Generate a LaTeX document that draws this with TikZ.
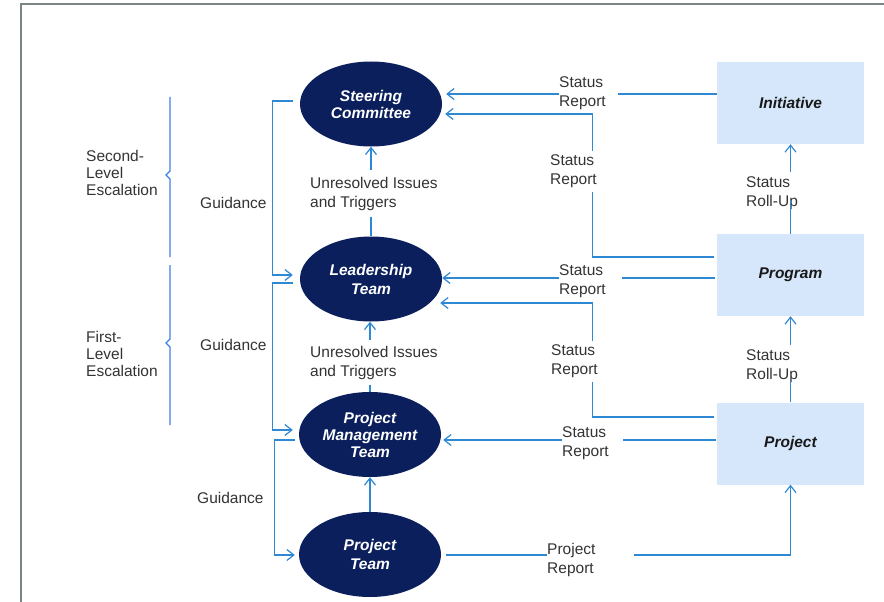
\documentclass[tikz,border=0pt]{standalone}
\usepackage{fontspec}
\setmainfont{Liberation Sans}
\usetikzlibrary{shapes.geometric,arrows.meta}
\definecolor{navy}{HTML}{0A1F5C}
\definecolor{boxblue}{HTML}{D6E7FB}
\definecolor{linkblue}{HTML}{2E88D3}
\definecolor{bracketblue}{HTML}{3D7FE8}
\definecolor{txtgray}{HTML}{333333}
\definecolor{framegray}{HTML}{7B8585}
\begin{document}
\begin{tikzpicture}[x=1pt,y=-1pt,
  font=\fontsize{15.5}{19}\selectfont,
  ell/.style={ellipse,fill=navy,minimum width=142pt,minimum height=85pt,inner sep=0pt,
    text=white,align=center,font=\fontsize{15.5}{17}\selectfont\bfseries\itshape},
  levelbox/.style={rectangle,fill=boxblue,minimum width=147pt,minimum height=82pt,inner sep=0pt,
    text=black!90,font=\fontsize{15.5}{17}\selectfont\bfseries\itshape},
  conn/.style={draw=linkblue,line width=1.2pt},
  arr/.style={conn,-{Straight Barb[length=7pt,width=11pt]}},
  lbl/.style={text=txtgray,align=left,inner sep=0pt,anchor=west},
  gaplbl/.style={lbl,fill=white},
  esc/.style={draw=bracketblue,line width=1.2pt},
]
\useasboundingbox (0,0) rectangle (884,602);
\draw[framegray,line width=2pt] (21,603) -- (21,4) -- (885,4);

% escalation brackets
\draw[esc] (170,97) -- (170,171) -- (166,175) -- (170,179) -- (170,257);
\draw[esc] (170,265) -- (170,339) -- (166,343) -- (170,347) -- (170,425);
\node[lbl,font=\fontsize{15.5}{17}\selectfont] (sle) at (86,173) {Second-\\Level\\Escalation};
\node[lbl,font=\fontsize{15.5}{17}\selectfont] (fle) at (86,353.5) {First-\\Level\\Escalation};

% nodes
\node[ell] (sc) at (371,104) {Steering\\Committee};
\node[ell,font=\fontsize{15.5}{19}\selectfont\bfseries\itshape] (lt) at (371,279) {Leadership\\Team};
\node[ell] (pmt) at (370,434.5) {Project\\Management\\Team};
\node[ell,font=\fontsize{15.5}{19}\selectfont\bfseries\itshape] (pt) at (370,554.5) {Project\\Team};
\node[levelbox] (init) at (790.5,103) {Initiative};
\node[levelbox] (prog) at (790.5,275) {Program};
\node[levelbox] (proj) at (790.5,443.5) {Project};

% guidance
\draw[arr] ([xshift=-7pt,yshift=3pt]sc.west) -- ++(-20,0) |- ([xshift=-7pt,yshift=4pt]lt.west);
\draw[arr] ([xshift=-7pt,yshift=-4pt]lt.west) -- ++(-20,0) |- ([xshift=-6pt,yshift=4.5pt]pmt.west);
\draw[arr] ([xshift=-4pt,yshift=-5.5pt]pmt.west) -- ++(-20,0) |- ([xshift=-4pt,yshift=-0.5pt]pt.west);
\node[lbl] (g1) at (200,202.5) {Guidance};
\node[lbl] (g2) at (200,344.5) {Guidance};
\node[lbl] (g3) at (197,497.5) {Guidance};

% escalation upward
\draw[arr] (lt.north) -- (sc.south);
\draw[arr] (pmt.north) -- (pmt.north |- lt.south);
\draw[arr] (pt.north) -- (pmt.south);

% status reports
\draw[arr] ([yshift=9pt]init.west) -- ([xshift=4pt,yshift=10pt]sc.east);
\draw[arr] ([xshift=-3pt,yshift=18pt]prog.west) -| ([xshift=150pt,yshift=-10pt]sc.east) -- ([xshift=3pt,yshift=-10pt]sc.east);
\draw[arr] ([xshift=-2pt,yshift=-3pt]prog.west) -- ([yshift=1pt]lt.east);
\draw[arr] ([xshift=-3pt,yshift=26.5pt]proj.west) -| ([xshift=150pt,yshift=-24pt]lt.east) -- ([xshift=-2pt,yshift=-24pt]lt.east);
\draw[arr] ([xshift=-1pt,yshift=3.5pt]proj.west) -- ([xshift=2pt,yshift=-5.5pt]pmt.east);
\draw[arr] ([xshift=5pt,yshift=-0.5pt]pt.east) -| (proj.south);

% roll-ups
\node[lbl] (ru1) at (746,193.5) {Status\\Roll-Up};
\node[lbl] (ru2) at (746,366.5) {Status\\Roll-Up};
\draw[conn] (prog.north) -- ([yshift=-6pt]prog.north |- ru1.center);
\draw[arr] ([yshift=5pt]prog.north |- ru1.north) -- (init.south);
\draw[conn] (proj.north) -- ([yshift=-13.5pt]proj.north |- ru2.center);
\draw[arr] ([yshift=5pt]proj.north |- ru2.north) -- (prog.south);

% labels with gaps
\node[gaplbl,text width=59pt] (sr1) at (559,93.5) {Status\\Report};
\node[gaplbl,inner ysep=4pt] (sr2) at (550,171.5) {Status\\Report};
\node[gaplbl,text width=63pt] (sr3) at (559,281) {Status\\Report};
\node[gaplbl,inner ysep=4pt] (sr4) at (551,361.5) {Status\\Report};
\node[gaplbl,text width=61pt] (sr5) at (562,443) {Status\\Report};
\node[gaplbl,text width=87pt] (pr) at (547,559.5) {Project\\Report};
\node[gaplbl,inner ysep=7pt] (ui1) at (310,193.5) {Unresolved Issues\\and Triggers};
\node[gaplbl,inner ysep=6pt] (ui2) at (310,362.5) {Unresolved Issues\\and Triggers};
\end{tikzpicture}
\end{document}
